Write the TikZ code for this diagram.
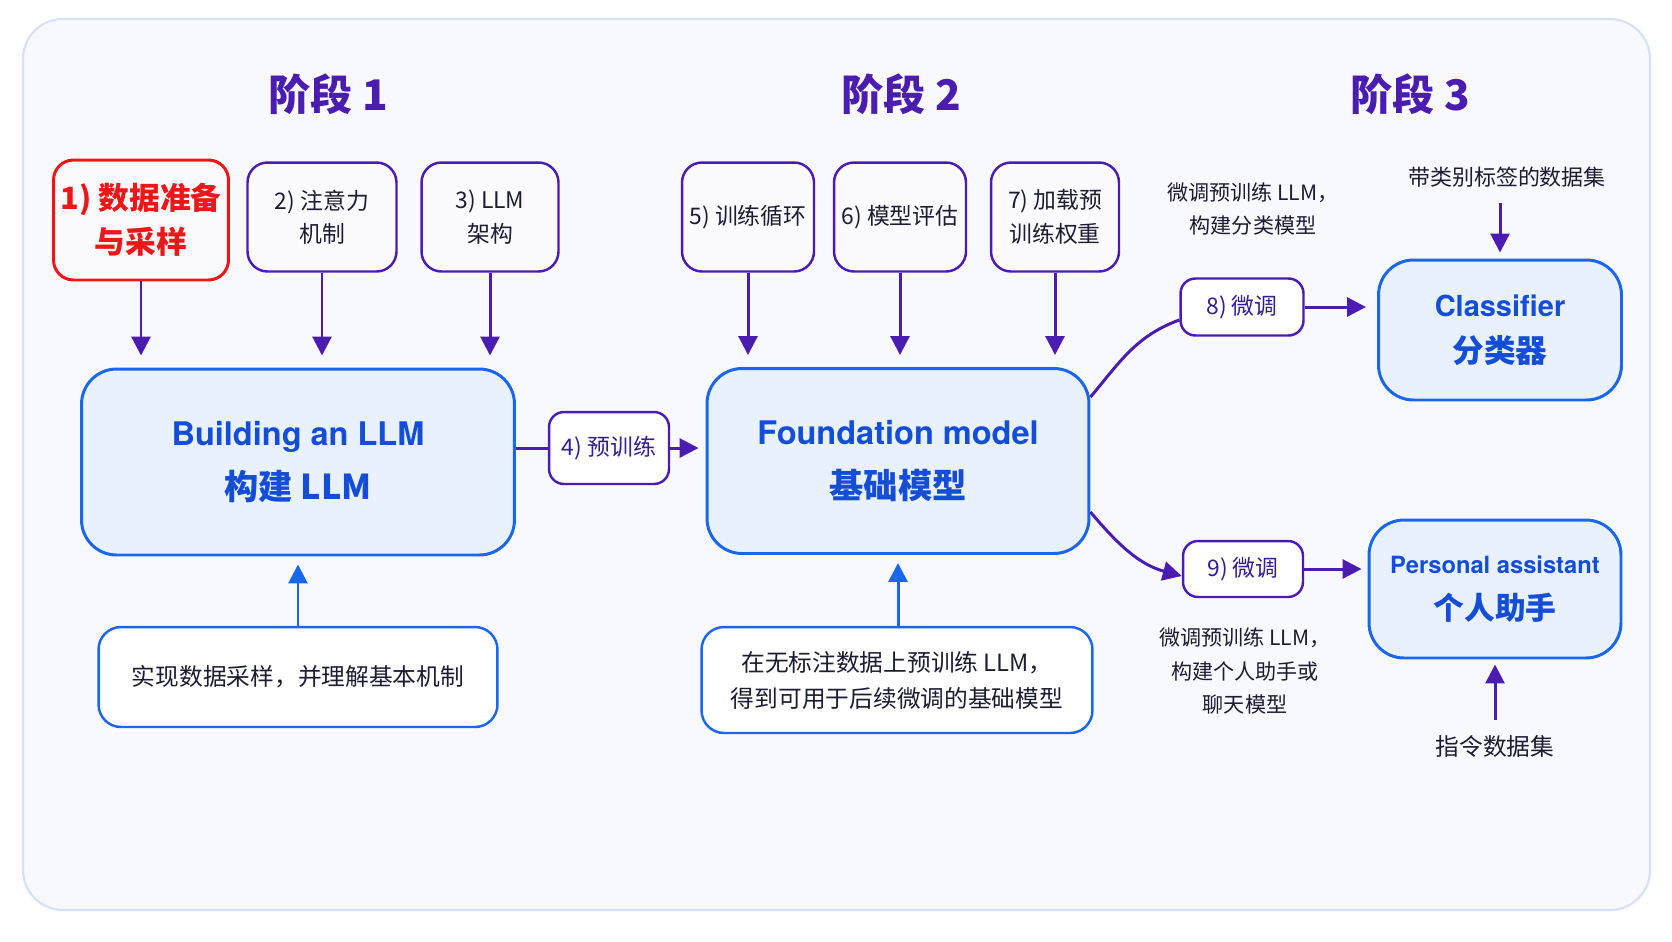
\documentclass[tikz,border=0pt]{standalone}
\usepackage{fontspec}
\setmainfont{Noto Sans CJK SC}
\newfontfamily\latinfont{TeX Gyre Heros}
\usepackage{tikz}
\usetikzlibrary{arrows.meta,positioning}
\definecolor{mainpurple}{RGB}{74,29,176}
\definecolor{mainblue}{RGB}{26,102,240}
\definecolor{textblue}{RGB}{20,78,215}
\definecolor{lightblue}{RGB}{232,241,253}
\definecolor{darktext}{RGB}{28,28,50}
\definecolor{tagtext}{RGB}{52,30,140}
\definecolor{alertred}{RGB}{236,24,24}
\definecolor{framebg}{RGB}{248,249,254}
\definecolor{frameline}{RGB}{214,224,248}
\definecolor{boxwhite}{RGB}{251,251,255}
\tikzstyle{stepbox}=[rectangle,rounded corners=0.4cm,draw=mainpurple,fill=boxwhite,line width=1.4pt,
                  minimum height=2.18cm,align=center,text=darktext,font=\fontsize{13}{19}\selectfont]
\tikzstyle{redbox}=[stepbox,draw=alertred,text=alertred,line width=1.7pt,font=\fontsize{17.5}{25}\selectfont\bfseries]
\tikzstyle{modelbox}=[rectangle,rounded corners=0.7cm,draw=mainblue,fill=lightblue,line width=1.7pt,
                  align=center,text=textblue,font=\fontsize{19.5}{31}\selectfont\bfseries]
\tikzstyle{notebox}=[rectangle,rounded corners=0.45cm,draw=mainblue,fill=white,line width=1.4pt,
                  align=center,text=darktext,font=\fontsize{13.5}{20.5}\selectfont]
\tikzstyle{tagbox}=[rectangle,rounded corners=0.3cm,draw=mainpurple,fill=white,line width=1.4pt,
                  align=center,text=tagtext,font=\fontsize{13}{16}\selectfont]
\tikzstyle{sidenote}=[align=center,text=darktext,font=\fontsize{12}{19}\selectfont]
\tikzstyle{stagetitle}=[text=mainpurple,font=\fontsize{24}{30}\selectfont\bfseries]
\tikzstyle{arrow}=[-{Triangle[length=0.38cm,width=0.38cm]},line width=1.7pt,draw=mainpurple]
\tikzstyle{bluearrow}=[arrow,draw=mainblue]

\begin{document}
\begin{tikzpicture}[x=0.02cm,y=-0.02cm]
      \useasboundingbox (0,0) rectangle (1672,941);
      \fill[white] (0,0) rectangle (1672,941);
      \draw[frameline,fill=framebg,line width=1.2pt,rounded corners=0.8cm] (23,19) rectangle (1650,910);

      \node[stagetitle] (s1) at (328,94) {阶段 1};
      \node[stagetitle] (s2) at (901,94) {阶段 2};
      \node[stagetitle] (s3) at (1410,94) {阶段 3};

      \node[redbox,minimum width=3.5cm,minimum height=2.4cm] (p1) at (141,220) {1) 数据准备\\与采样};
      \node[stepbox,minimum width=2.98cm] (p2) at (322,217) {2) 注意力\\机制};
      \node[stepbox,minimum width=2.74cm] (p3) at (490,217) {3) LLM\\架构};
      \node[modelbox,minimum width=8.66cm,minimum height=3.72cm] (build) at (298,462)
            {{\latinfont\fontsize{18.5}{31}\selectfont Building an LLM}\\构建 LLM};
      \node[notebox,minimum width=7.98cm,minimum height=2cm] (n1) at (298,677) {实现数据采样，并理解基本机制};

      \node[stepbox,minimum width=2.64cm] (p5) at (748,217) {5) 训练循环};
      \node[stepbox,minimum width=2.64cm] (p6) at (900,217) {6) 模型评估};
      \node[stepbox,minimum width=2.56cm] (p7) at (1055,217) {7) 加载预\\训练权重};
      \node[modelbox,minimum width=7.64cm,minimum height=3.7cm] (found) at (898,461)
            {{\latinfont\fontsize{18.5}{31}\selectfont Foundation model}\\基础模型};
      \node[notebox,minimum width=7.82cm,minimum height=2.12cm] (n2) at (897,680) {在无标注数据上预训练 LLM，\\得到可用于后续微调的基础模型};
      \node[tagbox,minimum width=2.4cm,minimum height=1.44cm] (pre) at (609,448) {4) 预训练};

      \node[tagbox,minimum width=2.46cm,minimum height=1.14cm] (ft8) at (1242,307) {8) 微调};
      \node[tagbox,minimum width=2.4cm,minimum height=1.12cm] (ft9) at (1243,569) {9) 微调};
      \node[modelbox,minimum width=4.86cm,minimum height=2.8cm,font=\fontsize{18}{26}\selectfont\bfseries] (cls) at (1500,330)
            {{\latinfont\fontsize{16.5}{26}\selectfont Classifier}\\分类器};
      \node[modelbox,minimum width=5.04cm,minimum height=2.76cm,font=\fontsize{17.5}{26}\selectfont\bfseries] (pa) at (1495,589)
            {{\latinfont\fontsize{13.5}{26}\selectfont Personal assistant}\\个人助手};
      \node[sidenote] (c8) at (1253,209) {微调预训练 LLM，\\构建分类模型};
      \node[sidenote] (c9) at (1245,671) {微调预训练 LLM，\\构建个人助手或\\聊天模型};
      \node[sidenote,font=\fontsize{12.5}{16}\selectfont] (lab) at (1507,177) {带类别标签的数据集};
      \node[sidenote,font=\fontsize{13.5}{16}\selectfont] (ins) at (1495,746) {指令数据集};

      \draw[arrow,shorten >=0.24cm] (p1) -- (p1 |- build.north);
      \draw[arrow,shorten >=0.24cm] (p2) -- (p2 |- build.north);
      \draw[arrow,shorten >=0.24cm] (p3) -- (p3 |- build.north);
      \draw[arrow,shorten >=0.24cm] (p5) -- (p5 |- found.north);
      \draw[arrow,shorten >=0.24cm] (p6) -- (p6 |- found.north);
      \draw[arrow,shorten >=0.24cm] (p7) -- (p7 |- found.north);
      \draw[bluearrow,shorten >=0.16cm] (n1.north -| build.south) -- (build.south);
      \draw[bluearrow,shorten >=0.16cm] (n2.north -| found.south) -- (found.south);
      \draw[line width=1.7pt,mainpurple] (pre.west -| build.east) -- (pre.west);
      \draw[arrow,shorten >=0.14cm] (pre.east) -- (pre.east -| found.west);
      \draw[line width=1.7pt,mainpurple] ([yshift=1.28cm]found.east) to[out=50,in=200] ([yshift=-0.26cm]ft8.west);
      \draw[arrow] ([yshift=-1.02cm]found.east) to[out=-50,in=165] ([yshift=-0.14cm]ft9.west);
      \draw[arrow,shorten >=0.22cm] (ft8) -- (ft8 -| cls.west);
      \draw[arrow,shorten >=0.12cm] (ft9) -- (ft9 -| pa.west);
      \draw[arrow,shorten <=0.2cm,shorten >=0.12cm] (cls.north |- lab.south) -- (cls.north);
      \draw[arrow,shorten <=0.18cm,shorten >=0.1cm] (pa.south |- ins.north) -- (pa.south);
    \end{tikzpicture}
\end{document}
